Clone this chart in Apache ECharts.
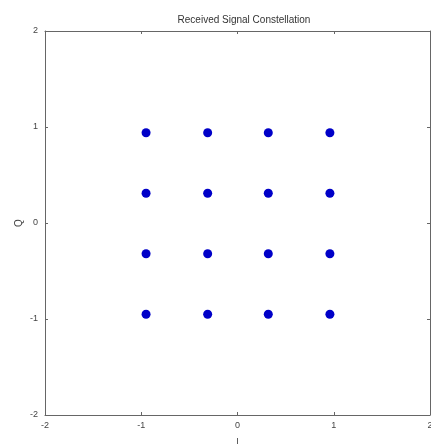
<!DOCTYPE html>
<html><head><meta charset="utf-8">
<script src="https://cdn.jsdelivr.net/npm/echarts@6/dist/echarts.min.js"></script>
<style>html,body{margin:0;padding:0;background:#fff}#c{width:431px;height:446px}</style>
</head><body><div id="c"></div>
<script>
const iValues = [-0.95, -0.31, 0.32, 0.96, -0.95, -0.31, 0.32, 0.96, -0.95, -0.31, 0.32, 0.96, -0.95, -0.31, 0.32, 0.96];
const qValues = [0.94, 0.94, 0.94, 0.94, 0.31, 0.31, 0.31, 0.31, -0.32, -0.32, -0.32, -0.32, -0.95, -0.95, -0.95, -0.95];
const tickValues = [-2, -1, 0, 1, 2];
const titleText = 'Received Signal Constellation';
const xName = 'I';
const yName = 'Q';

const pts = iValues.map((v, k) => [v, qValues[k]]);
const axisCommon = {
  type: 'value', min: -2, max: 2, interval: 1,
  axisLine: {show: true, onZero: false, lineStyle: {color: '#666', width: 1}},
  axisTick: {show: true, inside: true, length: 3, lineStyle: {color: '#666'}},
  splitLine: {show: false},
  axisLabel: {color: '#444', fontSize: 9, fontFamily: 'Liberation Sans'}
};
const chart = echarts.init(document.getElementById('c'), null, {renderer: 'canvas'});
chart.setOption({
  animation: false,
  title: {text: titleText, left: 239, top: 10, textAlign: 'center',
    textStyle: {fontSize: 10, fontWeight: 'normal', color: '#333', fontFamily: 'Liberation Sans'}},
  grid: {left: 45, right: 1, top: 31, bottom: 31, containLabel: false, outerBoundsMode: 'none'},
  graphic: [{
    type: 'text', x: 19, y: 223, rotation: Math.PI / 2,
    style: {text: yName, fontSize: 10, fill: '#444', fontFamily: 'Liberation Sans', align: 'center', verticalAlign: 'middle'}
  }],
  xAxis: [
    Object.assign({}, axisCommon, {position: 'bottom', name: xName, nameLocation: 'middle', nameGap: 22, nameMoveOverlap: false,
      nameTextStyle: {fontSize: 9, color: '#444'}, axisLabel: Object.assign({}, axisCommon.axisLabel, {margin: 6})}),
    Object.assign({}, axisCommon, {position: 'top', axisLabel: {show: false}})
  ],
  yAxis: [
    Object.assign({}, axisCommon, {position: 'left', axisLabel: Object.assign({}, axisCommon.axisLabel, {margin: 7})}),
    Object.assign({}, axisCommon, {position: 'right', axisLabel: {show: false}})
  ],
  series: [{
    type: 'scatter', xAxisIndex: 0, yAxisIndex: 0,
    data: pts, symbol: 'circle', symbolSize: 9,
    itemStyle: {color: '#0000c8', opacity: 1}
  }]
});
</script></body></html>
